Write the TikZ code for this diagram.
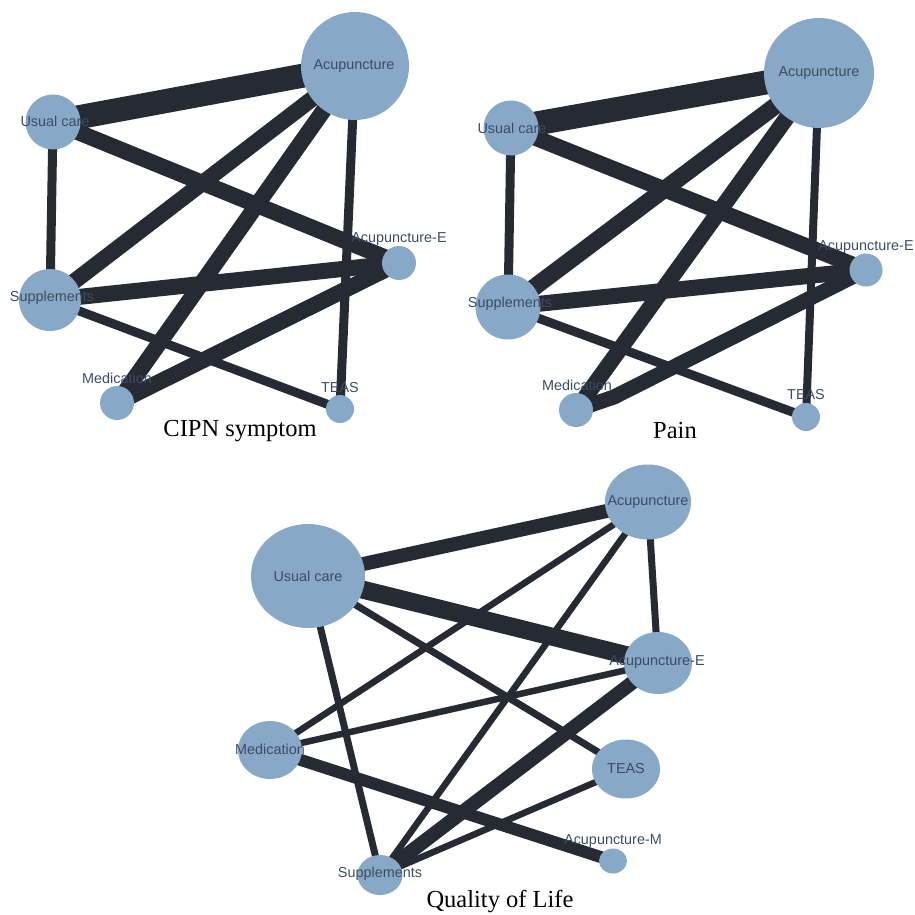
\documentclass[tikz,border=0pt]{standalone}
\usepackage{fontspec}
\setmainfont{Liberation Serif}
\newfontfamily\lblfont{Liberation Sans}
\usetikzlibrary{shapes.geometric,backgrounds}
\definecolor{nodefill}{RGB}{136,168,200}
\definecolor{edgecol}{RGB}{38,42,51}
\definecolor{lblcol}{RGB}{60,76,98}
\begin{document}
\begin{tikzpicture}[x=1pt,y=-1pt,
  nd/.style={circle, fill=nodefill, inner sep=0pt, minimum size=#1},
  el/.style 2 args={ellipse, fill=nodefill, inner sep=0pt, minimum width=#1, minimum height=#2},
  lbl/.style={font=\lblfont\fontsize{14.4}{16}\selectfont, text=lblcol, inner sep=0pt},
  ttl/.style={font=\fontsize{24.5}{28}\selectfont, inner sep=0pt},
  lk/.style={draw=edgecol, line width=#1}]
\useasboundingbox (0,0) rectangle (914,915);

% ---------- Panel 1: CIPN symptom ----------
\node[nd=108] (ac1) at (355,66) {};
\node[nd=55]  (uc1) at (53,122) {};
\node[nd=62]  (su1) at (50,300) {};
\node[nd=34]  (ae1) at (399,263) {};
\node[nd=34]  (me1) at (117,403) {};
\node[nd=28]  (te1) at (340,409) {};
\begin{scope}[on background layer]
\draw[lk=24] (uc1.center) -- (ac1.center);
\draw[lk=9]  (uc1.center) -- (su1.center);
\draw[lk=16] (uc1.center) -- (ae1.center);
\draw[lk=16] (ac1.center) -- (su1.center);
\draw[lk=16] (ac1.center) -- (me1.center);
\draw[lk=9]  (ac1.center) -- (te1.center);
\draw[lk=16] (su1.center) -- (ae1.center);
\draw[lk=9]  (su1.center) -- (te1.center);
\draw[lk=16] (me1.center) -- (ae1.center);
\end{scope}
\node[lbl] (l1ac) at (354,66) {Acupuncture};
\node[lbl] (l1uc) at (55,121) {Usual care};
\node[lbl] (l1su) at (52,298) {Supplements};
\node[lbl] (l1ae) at (399,239) {Acupuncture-E};
\node[lbl] (l1me) at (117,378) {Medication};
\node[lbl] (l1te) at (340,388) {TEAS};
\node[ttl] (t1) at (240,431) {CIPN symptom};

% ---------- Panel 2: Pain ----------
\node[nd=110] (ac2) at (819,73) {};
\node[nd=55]  (uc2) at (511,128) {};
\node[nd=65]  (su2) at (508,307) {};
\node[nd=33]  (ae2) at (866,270) {};
\node[nd=34]  (me2) at (576,410) {};
\node[nd=28]  (te2) at (806,417) {};
\coordinate (k2) at (614,397);
\begin{scope}[on background layer]
\draw[lk=24] (uc2.center) -- (ac2.center);
\draw[lk=9]  (uc2.center) -- (su2.center);
\draw[lk=16] (uc2.center) -- (ae2.center);
\draw[lk=17] (ac2.center) -- (su2.center);
\draw[lk=16] (ac2.center) -- (me2.center);
\draw[lk=8]  (ac2.center) -- (te2.center);
\draw[lk=16] (su2.center) -- (ae2.center);
\draw[lk=9]  (su2.center) -- (te2.center);
\draw[lk=15] (me2.center) -- (k2) -- (ae2.center);
\end{scope}
\node[lbl] (l2ac) at (819,73) {Acupuncture};
\node[lbl] (l2uc) at (512,128) {Usual care};
\node[lbl] (l2su) at (510,304) {Supplements};
\node[lbl] (l2ae) at (866,247) {Acupuncture-E};
\node[lbl] (l2me) at (577,385) {Medication};
\node[lbl] (l2te) at (806,395) {TEAS};
\node[ttl] (t2) at (675,431) {Pain};

% ---------- Panel 3: Quality of Life ----------
\node[el={86}{75}]   (ac3) at (648,502) {};
\node[el={114}{104}] (uc3) at (308,576) {};
\node[el={68}{62}]   (ae3) at (658,663) {};
\node[el={64}{58}]   (me3) at (270,750) {};
\node[el={68}{59}]   (te3) at (626,769) {};
\node[el={28}{25}]   (am3) at (613,861) {};
\node[el={45}{40}]   (su3) at (380,875) {};
\begin{scope}[on background layer]
\draw[lk=14]  (uc3.center) -- (ac3.center);
\draw[lk=18]  (uc3.center) -- (ae3.center);
\draw[lk=7]   (uc3.center) -- (te3.center);
\draw[lk=7]   (uc3.center) -- (su3.center);
\draw[lk=7]   (ac3.center) -- (ae3.center);
\draw[lk=6.5] (ac3.center) -- (me3.center);
\draw[lk=6.5] (ac3.center) -- (su3.center);
\draw[lk=6.5] (ae3.center) -- (me3.center);
\draw[lk=14]  (ae3.center) -- (su3.center);
\draw[lk=12]  (me3.center) -- (am3.center);
\draw[lk=6.5] (te3.center) -- (su3.center);
\end{scope}
\node[lbl] (l3ac) at (648,502) {Acupuncture};
\node[lbl] (l3uc) at (308,576) {Usual care};
\node[lbl] (l3ae) at (657,662) {Acupuncture-E};
\node[lbl] (l3me) at (270,749) {Medication};
\node[lbl] (l3te) at (626,769) {TEAS};
\node[lbl] (l3am) at (613,841) {Acupuncture-M};
\node[lbl] (l3su) at (380,874) {Supplements};
\node[ttl] (t3) at (500,902) {Quality of Life};
\end{tikzpicture}
\end{document}
